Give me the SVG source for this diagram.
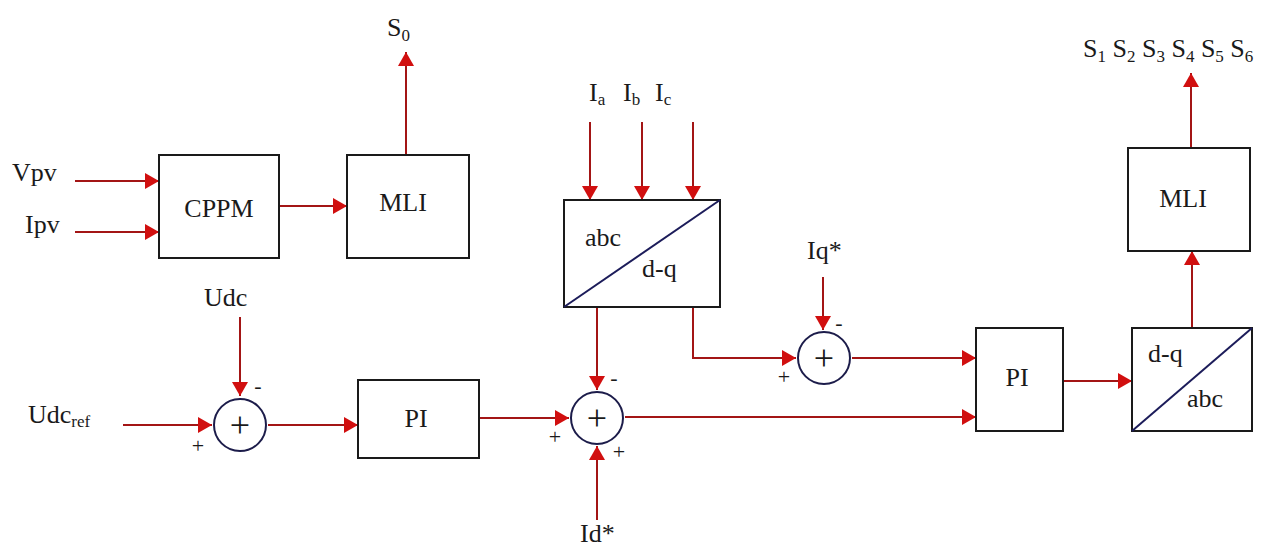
<svg xmlns="http://www.w3.org/2000/svg" width="1261" height="549" viewBox="0 0 1261 549">
<defs>
<style>
.box{fill:#fff;stroke:#1a1a1a;stroke-width:2}
.sum{fill:#fff;stroke:#1c1c4a;stroke-width:2}
.diag{stroke:#1c1c5a;stroke-width:2}
.t{font-family:"Liberation Serif","Times New Roman",serif;font-size:26px;fill:#1a1a1a}
.sub{font-size:17px}
.sg{font-family:"Liberation Serif","Times New Roman",serif;font-size:22px;fill:#1a1a1a;text-anchor:middle;dominant-baseline:central}
.pl{font-family:"Liberation Serif","Times New Roman",serif;font-size:36px;fill:#1a1a1a;text-anchor:middle;dominant-baseline:central}
.c{fill:none;stroke:#a31515;stroke-width:2;marker-end:url(#ah)}
</style>
<marker id="ah" markerUnits="userSpaceOnUse" markerWidth="14" markerHeight="16" refX="14" refY="8" orient="auto">
<path d="M0,0 L14,8 L0,16 z" fill="#d10f0f"/>
</marker>
</defs>
<rect width="1261" height="549" fill="#fff"/>

<g id="connectors">
<line class="c" x1="75" y1="181" x2="159" y2="181"/>
<line class="c" x1="75" y1="232" x2="159" y2="232"/>
<line class="c" x1="279" y1="206" x2="347" y2="206"/>
<line class="c" x1="406" y1="155" x2="406" y2="52"/>
<line class="c" x1="240" y1="317" x2="240" y2="396"/>
<line class="c" x1="123" y1="425" x2="212" y2="425"/>
<line class="c" x1="268" y1="425" x2="358" y2="425"/>
<line class="c" x1="479" y1="418" x2="569" y2="418"/>
<line class="c" x1="590" y1="122" x2="590" y2="200"/>
<line class="c" x1="642" y1="122" x2="642" y2="200"/>
<line class="c" x1="693" y1="122" x2="693" y2="200"/>
<line class="c" x1="597" y1="307" x2="597" y2="390"/>
<line class="c" x1="597" y1="520" x2="597" y2="446"/>
<polyline class="c" points="693,307 693,358 796,358"/>
<line class="c" x1="823" y1="277" x2="823" y2="330"/>
<line class="c" x1="852" y1="358" x2="976" y2="358"/>
<line class="c" x1="625" y1="417" x2="976" y2="417"/>
<line class="c" x1="1063" y1="381" x2="1132" y2="381"/>
<line class="c" x1="1192" y1="328" x2="1192" y2="251"/>
<line class="c" x1="1191" y1="148" x2="1191" y2="73"/>
</g>

<g id="cppm">
<rect class="box" x="159" y="155" width="120" height="103"/>
<text class="t" x="219" y="217" text-anchor="middle">CPPM</text>
</g>
<g id="mli1">
<rect class="box" x="347" y="155" width="122" height="103"/>
<text class="t" x="403" y="211" text-anchor="middle">MLI</text>
</g>
<g id="pi1">
<rect class="box" x="358" y="380" width="121" height="78"/>
<text class="t" x="416" y="427" text-anchor="middle">PI</text>
</g>
<g id="abc-dq">
<rect class="box" x="564" y="200" width="156" height="107"/>
<line class="diag" x1="564" y1="307" x2="720" y2="200"/>
<text class="t" x="585" y="246">abc</text>
<text class="t" x="642" y="277">d-q</text>
</g>
<g id="pi2">
<rect class="box" x="976" y="328" width="87" height="103"/>
<text class="t" x="1017" y="386" text-anchor="middle">PI</text>
</g>
<g id="dq-abc">
<rect class="box" x="1132" y="328" width="120" height="103"/>
<line class="diag" x1="1132" y1="431" x2="1252" y2="328"/>
<text class="t" x="1148" y="362">d-q</text>
<text class="t" x="1187" y="407">abc</text>
</g>
<g id="mli2">
<rect class="box" x="1128" y="148" width="122" height="103"/>
<text class="t" x="1183" y="207" text-anchor="middle">MLI</text>
</g>

<g id="sum1">
<circle class="sum" cx="240" cy="425" r="26"/>
<text class="pl" x="240" y="425">+</text>
<text class="sg" x="258" y="385">-</text>
<text class="sg" x="198" y="445">+</text>
</g>
<g id="sum3">
<circle class="sum" cx="597" cy="418" r="26"/>
<text class="pl" x="597" y="418">+</text>
<text class="sg" x="614" y="377">-</text>
<text class="sg" x="555" y="436">+</text>
<text class="sg" x="619" y="451">+</text>
</g>
<g id="sum2">
<circle class="sum" cx="824" cy="358" r="26"/>
<text class="pl" x="824" y="358">+</text>
<text class="sg" x="839" y="322">-</text>
<text class="sg" x="784" y="376">+</text>
</g>

<g id="labels">
<text class="t" x="12" y="181">Vpv</text>
<text class="t" x="25" y="233">Ipv</text>
<text class="t" x="387" y="36">S<tspan class="sub" dy="5">0</tspan></text>
<text class="t" x="204" y="306">Udc</text>
<text class="t" x="28" y="423">Udc<tspan class="sub" dy="4">ref</tspan></text>
<text class="t" x="589" y="101">I<tspan class="sub" dy="4">a</tspan></text>
<text class="t" x="623" y="101">I<tspan class="sub" dy="4">b</tspan></text>
<text class="t" x="655" y="101">I<tspan class="sub" dy="4">c</tspan></text>
<text class="t" x="807" y="259">Iq*</text>
<text class="t" x="580" y="542">Id*</text>
<text class="t" x="1083" y="57">S<tspan class="sub" dy="5">1</tspan><tspan dy="-5"> S</tspan><tspan class="sub" dy="5">2</tspan><tspan dy="-5"> S</tspan><tspan class="sub" dy="5">3</tspan><tspan dy="-5"> S</tspan><tspan class="sub" dy="5">4</tspan><tspan dy="-5"> S</tspan><tspan class="sub" dy="5">5</tspan><tspan dy="-5"> S</tspan><tspan class="sub" dy="5">6</tspan></text>
</g>
</svg>
